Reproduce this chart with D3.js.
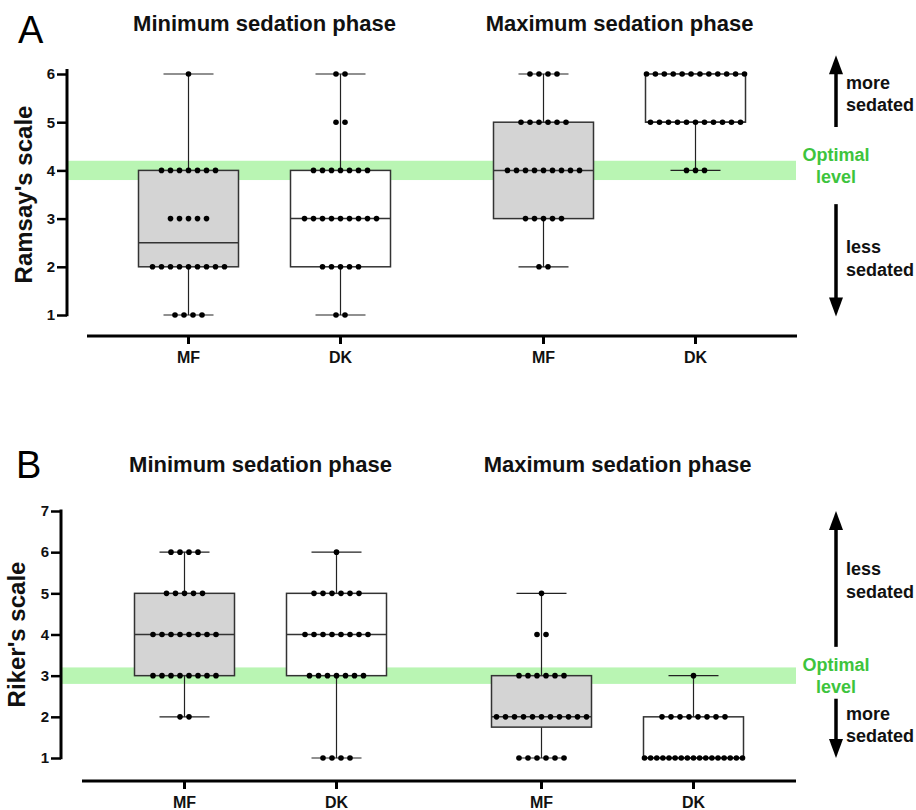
<!DOCTYPE html>
<html>
<head>
    <meta charset="utf-8">
    <title>Ramsay / Riker sedation scores</title>
    <script src="https://d3js.org/d3.v7.min.js"></script>
    <style>
        body {
            margin: 0;
            background-color: #ffffff;
        }

        text {
            font-family: "Liberation Sans", Arial, sans-serif;
        }
    </style>
</head>
<body>
    <svg id="chart"></svg>

    <script type="text/javascript">
        // phases and groups
        const phases = ['Minimum sedation phase', 'Maximum sedation phase']
        const groups = ['MF', 'DK']

        // Ramsay's scale (panel A), individual scores
        const ramsayMinMF = [1, 1, 1, 1, 2, 2, 2, 2, 2, 2, 2, 2, 2, 3, 3, 3, 3, 3, 4, 4, 4, 4, 4, 4, 4, 6]
        const ramsayMinDK = [1, 1, 2, 2, 2, 2, 2, 3, 3, 3, 3, 3, 3, 3, 3, 3, 4, 4, 4, 4, 4, 4, 4, 5, 5, 6, 6]
        const ramsayMaxMF = [2, 2, 3, 3, 3, 3, 3, 4, 4, 4, 4, 4, 4, 4, 4, 4, 5, 5, 5, 5, 5, 5, 6, 6, 6, 6]
        const ramsayMaxDK = [4, 4, 4, 5, 5, 5, 5, 5, 5, 5, 5, 5, 5, 5, 6, 6, 6, 6, 6, 6, 6, 6, 6, 6, 6, 6]

        // Riker's scale (panel B), individual scores
        const rikerMinMF = [2, 2, 3, 3, 3, 3, 3, 3, 3, 3, 4, 4, 4, 4, 4, 4, 4, 4, 5, 5, 5, 5, 5, 6, 6, 6, 6]
        const rikerMinDK = [1, 1, 1, 1, 3, 3, 3, 3, 3, 3, 3, 4, 4, 4, 4, 4, 4, 4, 4, 5, 5, 5, 5, 5, 5, 6]
        const rikerMaxMF = [1, 1, 1, 1, 1, 1, 2, 2, 2, 2, 2, 2, 2, 2, 2, 2, 2, 3, 3, 3, 3, 3, 3, 4, 4, 5]
        const rikerMaxDK = [1, 1, 1, 1, 1, 1, 1, 1, 1, 1, 1, 1, 1, 1, 1, 1, 1, 2, 2, 2, 2, 2, 2, 2, 2, 3]

        const ramsayTicks = [1, 2, 3, 4, 5, 6]
        const rikerTicks = [1, 2, 3, 4, 5, 6, 7]

        const groupFill = { 'MF': '#d4d4d4', 'DK': '#ffffff' }
        const bandColor = '#b9f5b3'
        const greenText = '#3dc43d'

        const svg = d3.select('#chart').attr('width', 916).attr('height', 810)

        // quartiles the GraphPad way: position (n+1)p
        let quant = (sorted, p) => {
            let n = sorted.length
            let h = (n + 1) * p
            if (h <= 1) return sorted[0]
            if (h >= n) return sorted[n - 1]
            let lo = Math.floor(h)
            return sorted[lo - 1] + (h - lo) * (sorted[lo] - sorted[lo - 1])
        }

        let drawPanel = (cfg) => {
            let g = svg.append('g')

            let y = d3.scaleLinear().domain(cfg.yDomain).range(cfg.yRange)
            let xPhase = d3.scalePoint().domain(phases).range(cfg.xRange).padding(0.5)
            let xGroup = d3.scalePoint().domain(groups).range([-76, 76])
            let boxW = 100

            let series = []
            phases.forEach((ph, pi) => {
                groups.forEach((gr, gi) => {
                    let vals = cfg.data[pi][gi].slice().sort((a, b) => a - b)
                    series.push({
                        phase: ph, group: gr,
                        cx: xPhase(ph) + xGroup(gr),
                        vals: vals,
                        q1: quant(vals, 0.25), med: quant(vals, 0.5), q3: quant(vals, 0.75),
                        min: vals[0], max: vals[vals.length - 1]
                    })
                })
            })

            // optimal level band
            g.append('rect')
                .attr('x', cfg.yAxisX)
                .attr('width', 796 - cfg.yAxisX)
                .attr('y', y(cfg.optimal + 0.2))
                .attr('height', y(cfg.optimal - 0.2) - y(cfg.optimal + 0.2))
                .attr('fill', bandColor)

            // panel letter and phase titles
            g.append('text').text(cfg.letter)
                .attr('x', cfg.letterX).attr('y', cfg.letterY)
                .style('font-size', '38px')
            g.selectAll('text.phase').data(phases).enter().append('text')
                .attr('class', 'phase')
                .text(d => d)
                .attr('x', d => xPhase(d))
                .attr('y', cfg.titleY)
                .attr('text-anchor', 'middle')
                .style('font-size', '22px').style('font-weight', 'bold').attr('fill', '#111')

            // whiskers
            let box = g.selectAll('g.box').data(series).enter().append('g').attr('class', 'box')
            box.append('line')
                .attr('x1', d => d.cx).attr('x2', d => d.cx)
                .attr('y1', d => y(d.max)).attr('y2', d => y(d.min))
                .attr('stroke', '#222').attr('stroke-width', 1.2)
            box.selectAll('line.cap').data(d => [d.min, d.max].map(v => ({ v: v, cx: d.cx }))).enter()
                .append('line').attr('class', 'cap')
                .attr('x1', d => d.cx - boxW / 4).attr('x2', d => d.cx + boxW / 4)
                .attr('y1', d => y(d.v)).attr('y2', d => y(d.v))
                .attr('stroke', '#222').attr('stroke-width', 1.2)

            // boxes
            box.append('rect')
                .attr('x', d => d.cx - boxW / 2)
                .attr('width', boxW)
                .attr('y', d => y(d.q3))
                .attr('height', d => y(d.q1) - y(d.q3))
                .attr('fill', d => groupFill[d.group])
                .attr('stroke', '#333').attr('stroke-width', 1.5)
            box.append('line')
                .attr('x1', d => d.cx - boxW / 2).attr('x2', d => d.cx + boxW / 2)
                .attr('y1', d => y(d.med)).attr('y2', d => y(d.med))
                .attr('stroke', '#333').attr('stroke-width', 1.5)

            // individual points, spread along rows
            let pts = []
            series.forEach(s => {
                let counts = d3.rollup(s.vals, v => v.length, d => d)
                counts.forEach((n, v) => {
                    let step = n > 1 ? Math.min(9, (boxW - 2) / (n - 1)) : 0
                    for (let i = 0; i < n; i++) {
                        pts.push({ x: s.cx + (i - (n - 1) / 2) * step, v: v })
                    }
                })
            })
            g.selectAll('circle.pt').data(pts).enter().append('circle')
                .attr('class', 'pt')
                .attr('cx', d => d.x).attr('cy', d => y(d.v))
                .attr('r', 2.8).attr('fill', '#000')

            // y axis
            let yAxis = g.append('g')
                .attr('transform', `translate(${cfg.yAxisX},0)`)
                .call(d3.axisLeft(y).tickValues(cfg.ticks).tickFormat(d3.format('d')).tickSize(10).tickSizeOuter(0))
            yAxis.select('.domain').remove()
            yAxis.selectAll('.tick line').attr('stroke', '#000').attr('stroke-width', 2.5)
            yAxis.selectAll('.tick text')
                .style('font-size', '15px').style('font-weight', 'bold')
                .style('font-family', '"Liberation Sans", Arial, sans-serif')
                .attr('x', -12).attr('fill', '#111')
            yAxis.append('line')
                .attr('x1', 0).attr('x2', 0)
                .attr('y1', y(cfg.yDomain[0]) + 1.2).attr('y2', y(cfg.yDomain[1]) - cfg.axisTopExtra)
                .attr('stroke', '#000').attr('stroke-width', 3)

            g.append('text').text(cfg.yLabel)
                .attr('transform', `translate(${cfg.yLabelX},${(cfg.yRange[0] + cfg.yRange[1]) / 2}) rotate(-90)`)
                .attr('text-anchor', 'middle')
                .style('font-size', '24px').style('font-weight', 'bold').attr('fill', '#111')

            // x axis
            g.append('line')
                .attr('x1', cfg.xRange[0]).attr('x2', cfg.xRange[1])
                .attr('y1', cfg.xAxisY).attr('y2', cfg.xAxisY)
                .attr('stroke', '#000').attr('stroke-width', 3)
            let xt = g.selectAll('g.xtick').data(series).enter().append('g').attr('class', 'xtick')
            xt.append('line')
                .attr('x1', d => d.cx).attr('x2', d => d.cx)
                .attr('y1', cfg.xAxisY).attr('y2', cfg.xAxisY + 8)
                .attr('stroke', '#000').attr('stroke-width', 3)
            xt.append('text').text(d => d.group)
                .attr('x', d => d.cx).attr('y', cfg.xAxisY + 27)
                .attr('text-anchor', 'middle')
                .style('font-size', '16px').style('font-weight', 'bold').attr('fill', '#111')

            // direction arrows and notes on the right
            let ax = 836
            let arrow = (from, to) => {
                let y1 = y(from), y2 = y(to)
                let dir = y2 < y1 ? -1 : 1
                g.append('line')
                    .attr('x1', ax).attr('x2', ax)
                    .attr('y1', y1).attr('y2', y2 - dir * 16)
                    .attr('stroke', '#000').attr('stroke-width', 3.5)
                g.append('path')
                    .attr('d', `M${ax},${y2} L${ax - 7},${y2 - dir * 19} L${ax + 7},${y2 - dir * 19} Z`)
                    .attr('fill', '#000')
            }
            arrow(cfg.upArrow[0], cfg.upArrow[1])
            arrow(cfg.downArrow[0], cfg.downArrow[1])

            cfg.notes.forEach(n => {
                g.append('text').text(n.t)
                    .attr('x', n.green ? ax : 846)
                    .attr('y', y(n.v)).attr('dy', '0.35em')
                    .attr('text-anchor', n.green ? 'middle' : 'start')
                    .attr('fill', n.green ? greenText : '#111')
                    .style('font-size', '18px').style('font-weight', 'bold')
            })
        }

        drawPanel({
            letter: 'A', letterX: 18, letterY: 43, titleY: 31,
            data: [[ramsayMinMF, ramsayMinDK], [ramsayMaxMF, ramsayMaxDK]],
            yDomain: [1, 6], yRange: [315, 74], ticks: ramsayTicks, axisTopExtra: 5,
            xRange: [87, 797], xAxisY: 336, yAxisX: 67,
            yLabel: "Ramsay's scale", yLabelX: 32,
            optimal: 4,
            upArrow: [4.9, 6.39], downArrow: [3.3, 0.97],
            notes: [
                { t: 'more', v: 5.81 }, { t: 'sedated', v: 5.36 },
                { t: 'Optimal', v: 4.32, green: true }, { t: 'level', v: 3.86, green: true },
                { t: 'less', v: 2.41 }, { t: 'sedated', v: 1.95 }
            ]
        })

        drawPanel({
            letter: 'B', letterX: 16, letterY: 478, titleY: 472,
            data: [[rikerMinMF, rikerMinDK], [rikerMaxMF, rikerMaxDK]],
            yDomain: [1, 7], yRange: [758, 511], ticks: rikerTicks, axisTopExtra: 1.5,
            xRange: [82, 796], xAxisY: 781, yAxisX: 61,
            yLabel: "Riker's scale", yLabelX: 25,
            optimal: 3,
            upArrow: [3.7, 7], downArrow: [2.44, 1],
            notes: [
                { t: 'less', v: 5.59 }, { t: 'sedated', v: 5.05 },
                { t: 'Optimal', v: 3.27, green: true }, { t: 'level', v: 2.73, green: true },
                { t: 'more', v: 2.07 }, { t: 'sedated', v: 1.53 }
            ]
        })
    </script>
</body>
</html>
